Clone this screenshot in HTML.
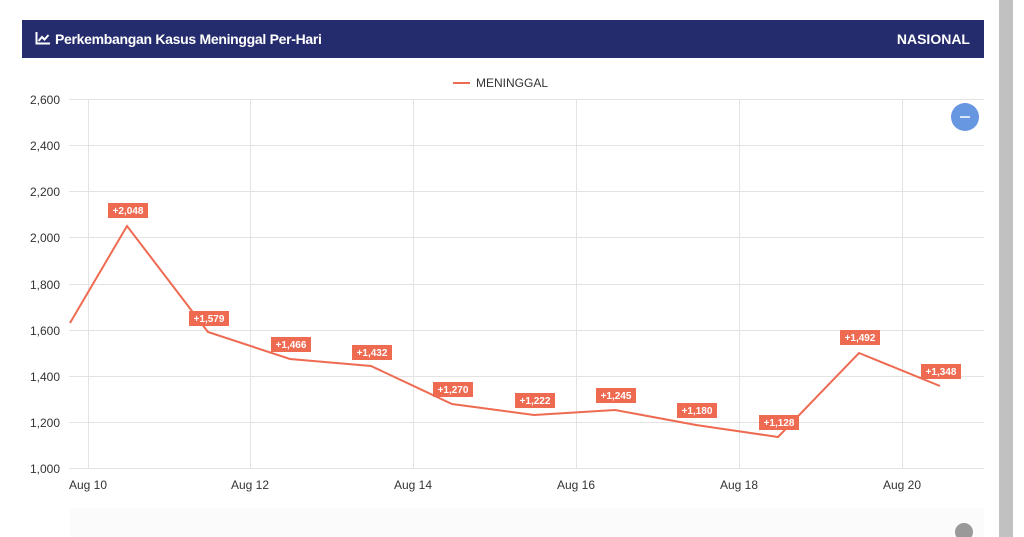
<!DOCTYPE html>
<html><head><meta charset="utf-8"><style>
body{margin:0;width:1024px;height:537px;background:#fff;overflow:hidden;font-family:"Liberation Sans",sans-serif;position:relative}
.hdr{position:absolute;left:22px;top:20px;width:962px;height:38px;background:#252c6e;color:#fff;font-weight:bold;font-size:14px}
.hdr .t{position:absolute;left:33px;top:11px;letter-spacing:-0.3px}
.hdr .r{position:absolute;right:14px;top:11px}
.sb{position:absolute;left:999px;top:0;width:14px;height:537px;background:#c1c1c1}
</style></head><body>
<div class="hdr"><svg style="position:absolute;left:13px;top:12px" width="15" height="13"><path d="M1.5 0V11.5H15" stroke="#fff" stroke-width="2" fill="none"/><path d="M3.5 9L7 5L9.5 7.5L13.5 3" stroke="#fff" stroke-width="2" fill="none"/></svg><span class="t">Perkembangan Kasus Meninggal Per-Hari</span><span class="r">NASIONAL</span></div>
<div class="sb"></div>
<svg width="1024" height="537" style="position:absolute;left:0;top:0">
<rect x="70" y="508" width="914" height="29" fill="#fbfbfb"/>
<g stroke="#e3e3e3" stroke-width="1">
<line x1="69" y1="99.5" x2="984" y2="99.5"/><line x1="69" y1="145.5" x2="984" y2="145.5"/><line x1="69" y1="191.5" x2="984" y2="191.5"/><line x1="69" y1="237.5" x2="984" y2="237.5"/><line x1="69" y1="284.5" x2="984" y2="284.5"/><line x1="69" y1="330.5" x2="984" y2="330.5"/><line x1="69" y1="376.5" x2="984" y2="376.5"/><line x1="69" y1="422.5" x2="984" y2="422.5"/><line x1="69" y1="468.5" x2="984" y2="468.5"/>
<line x1="88.5" y1="99" x2="88.5" y2="468"/><line x1="250.5" y1="99" x2="250.5" y2="468"/><line x1="413.5" y1="99" x2="413.5" y2="468"/><line x1="576.5" y1="99" x2="576.5" y2="468"/><line x1="739.5" y1="99" x2="739.5" y2="468"/><line x1="902.5" y1="99" x2="902.5" y2="468"/>
</g>
<g font-size="12" fill="#333" text-anchor="end">
<text x="60" y="104">2,600</text><text x="60" y="150">2,400</text><text x="60" y="196">2,200</text><text x="60" y="242">2,000</text><text x="60" y="289">1,800</text><text x="60" y="335">1,600</text><text x="60" y="381">1,400</text><text x="60" y="427">1,200</text><text x="60" y="473">1,000</text>
</g>
<g font-size="12" fill="#333" text-anchor="middle">
<text x="88" y="489">Aug 10</text><text x="250" y="489">Aug 12</text><text x="413" y="489">Aug 14</text><text x="576" y="489">Aug 16</text><text x="739" y="489">Aug 18</text><text x="902" y="489">Aug 20</text>
</g>
<line x1="453" y1="83" x2="470" y2="83" stroke="#ee6b52" stroke-width="2"/>
<text x="476" y="87" font-size="12" fill="#333">MENINGGAL</text>
<polyline fill="none" stroke="#ee6b52" stroke-width="2" points="70,323 127,226 208,332 290,359 371,366 452,404 534,415 615,410 696,425 778,437 859,353 940,386"/>
<g fill="#ee6b52" font-size="10" font-weight="bold" text-anchor="middle">
<g><rect x="108" y="203" width="40" height="15"/><text x="128" y="214" fill="#fff">+2,048</text></g>
<g><rect x="189" y="311" width="40" height="15"/><text x="209" y="322" fill="#fff">+1,579</text></g>
<g><rect x="271" y="337" width="40" height="15"/><text x="291" y="348" fill="#fff">+1,466</text></g>
<g><rect x="352" y="345" width="40" height="15"/><text x="372" y="356" fill="#fff">+1,432</text></g>
<g><rect x="433" y="382" width="40" height="15"/><text x="453" y="393" fill="#fff">+1,270</text></g>
<g><rect x="515" y="393" width="40" height="15"/><text x="535" y="404" fill="#fff">+1,222</text></g>
<g><rect x="596" y="388" width="40" height="15"/><text x="616" y="399" fill="#fff">+1,245</text></g>
<g><rect x="677" y="403" width="40" height="15"/><text x="697" y="414" fill="#fff">+1,180</text></g>
<g><rect x="759" y="415" width="40" height="15"/><text x="779" y="426" fill="#fff">+1,128</text></g>
<g><rect x="840" y="330" width="40" height="15"/><text x="860" y="341" fill="#fff">+1,492</text></g>
<g><rect x="921" y="364" width="40" height="15"/><text x="941" y="375" fill="#fff">+1,348</text></g>
</g>
<circle cx="965" cy="117" r="14" fill="#6797e0"/>
<line x1="960" y1="117" x2="970" y2="117" stroke="#fff" stroke-width="1.5"/>
<circle cx="964" cy="532" r="9" fill="#999"/>
</svg>
</body></html>
